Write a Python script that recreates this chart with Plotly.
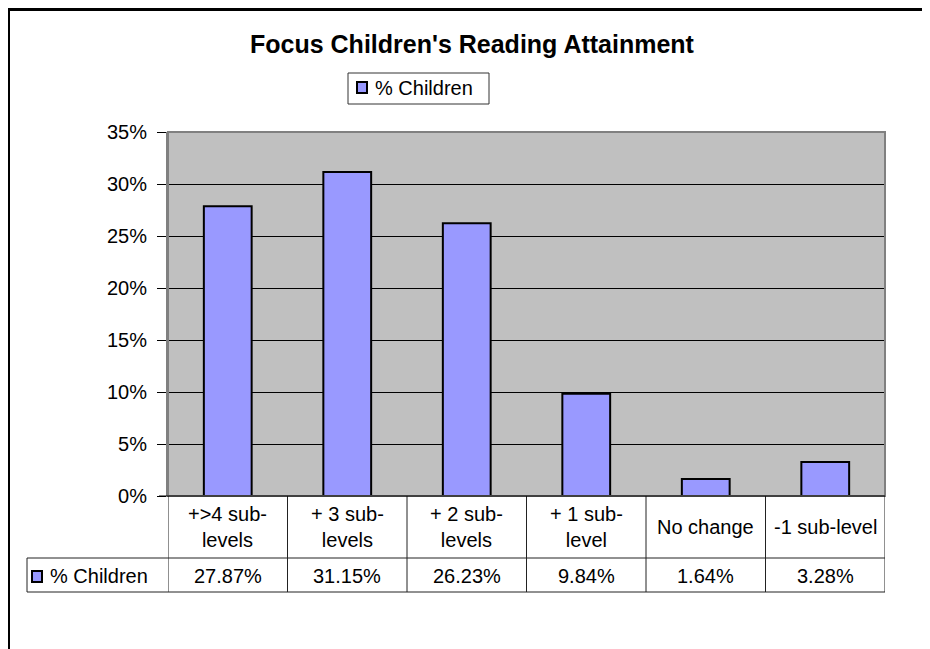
import plotly.graph_objects as go

categories = ["+>4 sub-<br>levels", "+ 3 sub-<br>levels", "+ 2 sub-<br>levels",
              "+ 1 sub-<br>level", "No change", "-1 sub-level"]
values = [0.2787, 0.3115, 0.2623, 0.0984, 0.0164, 0.0328]
series_name = "% Children"
title = "Focus Children's Reading Attainment"

OFF = 8  # page body margin
W, H = 930 - OFF, 649 - OFF
L, R, T, B = 168, 885, 132, 496  # page pixel positions of plot area
FONT = "Liberation Sans, Arial, sans-serif"
BAR = "#9999FF"
FS = 20


def px2x(p):
    return (p - L) / (R - L)


def px2y(p):
    return (B - p) / (B - T)


xs = list(range(len(categories)))

fig = go.Figure()
fig.add_trace(go.Bar(x=xs, y=values, name=series_name,
                     marker=dict(color=BAR, line=dict(color="black", width=2)),
                     showlegend=False, hoverinfo="y"))

shapes = []
annotations = []

# plot border
shapes.append(dict(type="rect", xref="paper", yref="paper", x0=0, x1=1, y0=0, y1=1,
                   line=dict(color="#808080", width=2), layer="above"))

# chart outer border (left and top)
shapes.append(dict(type="line", xref="paper", yref="paper",
                   x0=px2x(8.5), x1=px2x(8.5), y0=px2y(9), y1=px2y(660),
                   line=dict(color="black", width=3)))
shapes.append(dict(type="line", xref="paper", yref="paper",
                   x0=px2x(7), x1=px2x(940), y0=px2y(9.5), y1=px2y(9.5),
                   line=dict(color="black", width=3)))

tcol = "#222222"
for i in range(len(categories) + 1):
    shapes.append(dict(type="line", xref="x", yref="paper",
                       x0=i - 0.5, x1=i - 0.5, y0=0, y1=px2y(592),
                       line=dict(color=tcol, width=1)))
shapes.append(dict(type="line", xref="paper", yref="paper",
                   x0=px2x(27), x1=px2x(27), y0=px2y(558), y1=px2y(592),
                   line=dict(color=tcol, width=1)))
for yy in (558, 592):
    shapes.append(dict(type="line", xref="paper", yref="paper",
                       x0=px2x(27), x1=1, y0=px2y(yy), y1=px2y(yy),
                       line=dict(color=tcol, width=1)))
shapes.append(dict(type="line", xref="paper", yref="paper",
                   x0=px2x(159), x1=1, y0=0, y1=0,
                   line=dict(color="black", width=1), layer="above"))

# legend key in table
shapes.append(dict(type="rect", xref="paper", yref="paper",
                   x0=px2x(32), x1=px2x(42), y0=px2y(582), y1=px2y(571),
                   fillcolor=BAR, line=dict(color="black", width=2)))
annotations.append(dict(xref="paper", yref="paper", x=px2x(48), y=px2y(576),
                        xanchor="left", yanchor="middle", text=series_name,
                        showarrow=False, font=dict(family=FONT, size=FS, color="black")))

for i, (c, v) in enumerate(zip(categories, values)):
    annotations.append(dict(xref="x", yref="paper", x=i, y=px2y(527),
                            xanchor="center", yanchor="middle", text=c,
                            showarrow=False,
                            font=dict(family=FONT, size=FS, color="black")))
    annotations.append(dict(xref="x", yref="paper", x=i, y=px2y(576),
                            xanchor="center", yanchor="middle", text=f"{v*100:.2f}%",
                            showarrow=False,
                            font=dict(family=FONT, size=FS, color="black")))

# top legend box
shapes.append(dict(type="rect", xref="paper", yref="paper",
                   x0=px2x(348), x1=px2x(489), y0=px2y(104), y1=px2y(73),
                   fillcolor="white", line=dict(color="#333333", width=1)))
shapes.append(dict(type="rect", xref="paper", yref="paper",
                   x0=px2x(357), x1=px2x(367), y0=px2y(93), y1=px2y(82),
                   fillcolor=BAR, line=dict(color="black", width=2)))
annotations.append(dict(xref="paper", yref="paper", x=px2x(373), y=px2y(88),
                        xanchor="left", yanchor="middle", text=series_name,
                        showarrow=False, font=dict(family=FONT, size=FS, color="black")))

annotations.append(dict(xref="paper", yref="paper", x=px2x(472), y=px2y(44),
                        xanchor="center", yanchor="middle", text=f"<b>{title}</b>",
                        showarrow=False, font=dict(family=FONT, size=25, color="black")))

fig.update_layout(
    width=W, height=H,
    margin=dict(l=L - OFF, r=930 - R, t=T - OFF, b=649 - B, pad=0),
    paper_bgcolor="white", plot_bgcolor="#C0C0C0",
    bargap=0.6,
    font=dict(family=FONT, size=FS, color="black"),
    shapes=shapes, annotations=annotations,
    xaxis=dict(range=[-0.5, len(categories) - 0.5], showticklabels=False,
               showgrid=False, zeroline=False, ticks="", fixedrange=True),
    yaxis=dict(range=[0, 0.35], dtick=0.05, tickformat=".0%",
               showgrid=True, gridcolor="black", gridwidth=1,
               zeroline=False, ticks="outside", ticklen=9, tickcolor="black",
               tickwidth=1, showline=True, linecolor="#808080", linewidth=2,
               tickfont=dict(family=FONT, size=FS, color="black"),
               ticklabelstandoff=6, fixedrange=True),
)

fig.write_html("out.html")
